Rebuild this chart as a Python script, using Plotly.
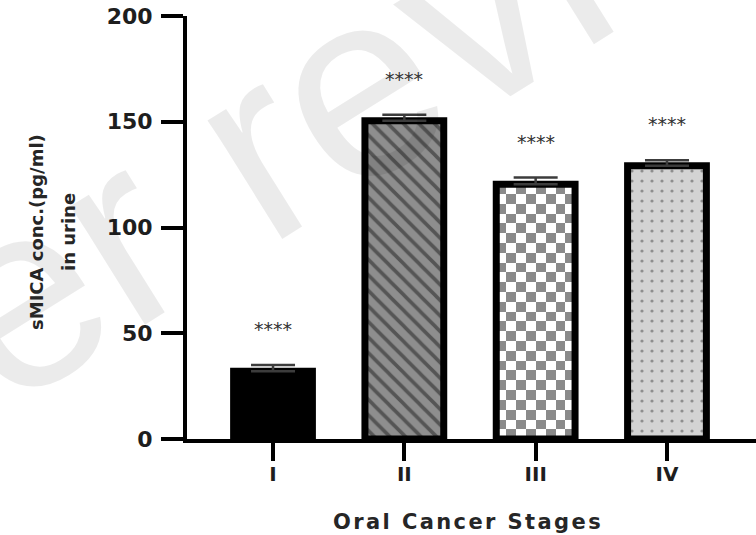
import plotly.graph_objects as go

# ---- data -------------------------------------------------------------
stages = ["I", "II", "III", "IV"]
smica_mean = [32.0, 150.5, 120.5, 129.2]      # sMICA conc. (pg/ml) in urine
smica_sem = [3.0, 2.8, 3.1, 2.6]
significance = ["****", "****", "****", "****"]
y_ticks = [0, 50, 100, 150, 200]

# ---- styling ------------------------------------------------------------
FONT = "DejaVu Sans"
BAR_W = 0.6
EDGE = 7
xpos = list(range(len(stages)))

L, R, T, B = 187, 0, 16, 96
W, H = 756, 535
PW, PH = W - L - R, H - T - B


def px_to_paper(px, py):
    return (px - L) / PW, (H - B - py) / PH


fig = go.Figure()

# checkerboard fill for stage III (sits beneath the bar outline)
i3 = 2
ncols = 8
nrows = max(1, round(smica_mean[i3] / 4.7))
dx = BAR_W / ncols
dy = smica_mean[i3] / nrows
fig.add_trace(go.Heatmap(
    z=[[(r + c) % 2 for c in range(ncols)] for r in range(nrows)],
    x0=xpos[i3] - BAR_W / 2 + dx / 2, dx=dx,
    y0=dy / 2, dy=dy,
    colorscale=[[0, "#ffffff"], [1, "#8a8a8a"]],
    showscale=False, hoverinfo="skip", zmin=0, zmax=1,
))

bar_styles = [
    dict(color="#000000"),
    dict(color="#8e8e8e",
         pattern=dict(shape="\\", fgcolor="#1c1c1c", bgcolor="#8e8e8e",
                      size=11, solidity=0.33, fillmode="overlay")),
    dict(color="rgba(0,0,0,0)"),
    dict(color="#d3d3d3",
         pattern=dict(shape=".", fgcolor="#4a4a4a", bgcolor="#d3d3d3",
                      size=10, solidity=0.08, fillmode="overlay")),
]

for i, st in enumerate(bar_styles):
    marker = dict(st)
    marker["line"] = dict(color="#000000", width=EDGE)
    fig.add_trace(go.Bar(
        x=[xpos[i]], y=[smica_mean[i]], width=BAR_W,
        marker=marker,
        error_y=dict(type="data", symmetric=False,
                     array=[smica_sem[i]], arrayminus=[0],
                     width=22, thickness=2.5, color="#3c3c3c"),
        showlegend=False, hoverinfo="skip",
    ))

annotations = []

# faint diagonal watermark
wx, wy = px_to_paper(288, 128)
annotations.append(dict(
    text="peer review", xref="paper", yref="paper", x=wx, y=wy,
    xanchor="center", yanchor="middle",
    showarrow=False, textangle=-32,
    font=dict(family="Liberation Sans", size=265, color="rgba(0,0,0,0.08)"),
))

# significance stars above each bar
for i, s in enumerate(significance):
    annotations.append(dict(
        text=s, x=xpos[i], y=smica_mean[i] + smica_sem[i] + 17,
        xref="x", yref="y", showarrow=False,
        xanchor="center", yanchor="middle",
        font=dict(family=FONT, size=19, color="#333333"),
    ))

# y-axis title (two lines)
tx1, ty = px_to_paper(36, 232)
tx2, _ = px_to_paper(68, 232)
for tx, line in ((tx1, "sMICA conc.(pg/ml)"), (tx2, "in urine")):
    annotations.append(dict(
        text=line, xref="paper", yref="paper", x=tx, y=ty,
        xanchor="center", yanchor="middle",
        showarrow=False, textangle=-90,
        font=dict(family=FONT, size=18, weight="bold", color="#262626"),
    ))

# x-axis title
xtx, xty = px_to_paper(468, 522)
annotations.append(dict(
    text='<span style="letter-spacing:2.4px">Oral Cancer Stages</span>',
    xref="paper", yref="paper", x=xtx, y=xty,
    xanchor="center", yanchor="middle",
    showarrow=False,
    font=dict(family=FONT, size=21, weight="bold", color="#262626"),
))

x_left = xpos[0] - (273 - L) / 131.3
x_right = xpos[-1] + (W - 667) / 131.3

fig.update_layout(
    width=W, height=H,
    margin=dict(l=L, r=R, t=T, b=B, pad=0),
    paper_bgcolor="white", plot_bgcolor="white",
    barmode="overlay",
    annotations=annotations,
    xaxis=dict(
        range=[x_left, x_right], tickvals=xpos, ticktext=stages,
        showline=True, linewidth=4, linecolor="#000000",
        ticks="outside", ticklen=18, tickwidth=4, tickcolor="#000000",
        tickfont=dict(family=FONT, size=20, weight="bold", color="#1e1e1e"),
        showgrid=False, zeroline=False, ticklabelstandoff=-4,
    ),
    yaxis=dict(
        range=[0, 200], tickvals=y_ticks,
        showline=True, linewidth=4, linecolor="#000000",
        ticks="outside", ticklen=22, tickwidth=4, tickcolor="#000000",
        tickfont=dict(family=FONT, size=22, weight="bold", color="#1e1e1e"),
        showgrid=False, zeroline=False, ticklabelstandoff=4,
    ),
)

fig.write_html("out.html")
